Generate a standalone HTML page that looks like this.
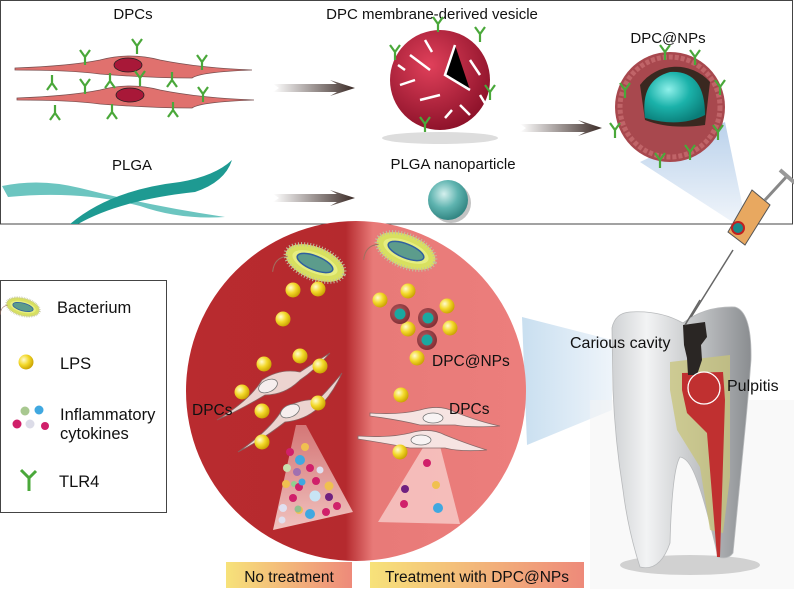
<!DOCTYPE html>
<html><head><meta charset="utf-8"><style>
html,body{margin:0;padding:0;background:#fff;}
svg{display:block;}
text{font-family:"Liberation Sans",sans-serif;fill:#111;}
</style></head><body>
<svg width="794" height="589" viewBox="0 0 794 589" xmlns="http://www.w3.org/2000/svg">
<defs>
<radialGradient id="lps" cx="0.35" cy="0.35" r="0.7"><stop offset="0" stop-color="#fffbd0"/><stop offset="0.5" stop-color="#f3d92a"/><stop offset="1" stop-color="#c8a000"/></radialGradient>
<radialGradient id="teal" cx="0.4" cy="0.35" r="0.7"><stop offset="0" stop-color="#d5f0ee"/><stop offset="0.5" stop-color="#5fb4b0"/><stop offset="1" stop-color="#2c7f7c"/></radialGradient>
<radialGradient id="teal2" cx="0.4" cy="0.35" r="0.7"><stop offset="0" stop-color="#8ff0ea"/><stop offset="0.5" stop-color="#1bb2aa"/><stop offset="1" stop-color="#0a7d78"/></radialGradient>
<radialGradient id="ves" cx="0.4" cy="0.35" r="0.7"><stop offset="0" stop-color="#e0405a"/><stop offset="1" stop-color="#8a1028"/></radialGradient>
<radialGradient id="np" cx="0.4" cy="0.4" r="0.7"><stop offset="0" stop-color="#b85a60"/><stop offset="1" stop-color="#7a2a30"/></radialGradient>
<linearGradient id="circ" x1="0" x2="1"><stop offset="0" stop-color="#b92b2f"/><stop offset="0.47" stop-color="#b52a2e"/><stop offset="0.55" stop-color="#e87a78"/><stop offset="1" stop-color="#ec7e7c"/></linearGradient>
<linearGradient id="arr" x1="0" x2="1"><stop offset="0" stop-color="#fff"/><stop offset="1" stop-color="#3a2a26"/></linearGradient>
<linearGradient id="lab" x1="0" x2="1"><stop offset="0" stop-color="#f7e27a"/><stop offset="1" stop-color="#ee8a7a"/></linearGradient>
<linearGradient id="tooth" x1="0" x2="1"><stop offset="0" stop-color="#d0d2d4"/><stop offset="0.25" stop-color="#f2f3f4"/><stop offset="0.6" stop-color="#c4c6c8"/><stop offset="1" stop-color="#8a8d90"/></linearGradient>
<linearGradient id="blue" x1="0" x2="1"><stop offset="0" stop-color="#c9dff0"/><stop offset="1" stop-color="#eef4fa"/></linearGradient>
<linearGradient id="blue2" x1="0" x2="0" y1="0" y2="1"><stop offset="0" stop-color="#a9c6e6"/><stop offset="1" stop-color="#f2f6fb"/></linearGradient>
<linearGradient id="cone" x1="0" x2="0" y1="0" y2="1"><stop offset="0" stop-color="#f3c4c0" stop-opacity="0.5"/><stop offset="1" stop-color="#f7d4d0" stop-opacity="0.9"/></linearGradient>
<g id="bal"><circle r="7.5" fill="url(#lps)"/></g>
<g id="tlr"><path d="M0 10 L0 2 L-5 -5 M0 2 L5 -5" stroke="#4aa83a" stroke-width="2.2" fill="none"/></g>
<g id="bact">
<ellipse rx="31" ry="16" fill="#d8e060" stroke="#c0c0a0" stroke-dasharray="1 2" stroke-width="4"/>
<ellipse rx="24" ry="10" fill="#e6ee80"/>
<ellipse rx="19" ry="7" fill="#5c9c8c" stroke="#3060a0" stroke-width="1.5"/>
<path d="M-28 4 Q-40 10 -36 24" stroke="#a07060" fill="none"/>
</g>
<g id="nps"><circle r="10" fill="url(#np)"/><circle r="5.5" fill="#1aa8a0"/></g>
</defs>

<rect x="0.5" y="0.5" width="792" height="223.5" fill="#fff" stroke="#444" stroke-width="1"/>
<text x="133" y="19" font-size="15" text-anchor="middle">DPCs</text>
<text x="432" y="19" font-size="15" text-anchor="middle">DPC membrane-derived vesicle</text>
<text x="668" y="43" font-size="15" text-anchor="middle">DPC@NPs</text>
<text x="132" y="170" font-size="15" text-anchor="middle">PLGA</text>
<text x="453" y="169" font-size="15" text-anchor="middle">PLGA nanoparticle</text>

<g>
<path d="M15 68 Q70 66 100 60 Q130 52 160 60 Q200 68 252 70 Q200 72 192 78 Q150 78 100 74 Q70 70 15 70 Z" fill="#e0716e" stroke="#7a5050" stroke-width="0.8"/>
<ellipse cx="128" cy="65" rx="14" ry="7" fill="#a81838" stroke="#222" stroke-width="0.8"/>
<path d="M17 98 Q70 96 100 90 Q130 82 160 90 Q200 98 254 100 Q200 102 192 108 Q150 108 100 104 Q70 100 17 100 Z" fill="#e0716e" stroke="#7a5050" stroke-width="0.8"/>
<ellipse cx="130" cy="95" rx="14" ry="7" fill="#a81838" stroke="#222" stroke-width="0.8"/>
<use href="#tlr" x="85" y="55"/><use href="#tlr" x="137" y="44"/><use href="#tlr" x="202" y="60"/>
<use href="#tlr" x="52" y="75" transform="rotate(180 52 80)"/><use href="#tlr" x="110" y="73" transform="rotate(180 110 78)"/>
<use href="#tlr" x="172" y="72" transform="rotate(180 172 77)"/><use href="#tlr" x="85" y="84"/><use href="#tlr" x="140" y="76"/><use href="#tlr" x="203" y="92"/>
<use href="#tlr" x="55" y="105" transform="rotate(180 55 110)"/><use href="#tlr" x="112" y="104" transform="rotate(180 112 109)"/><use href="#tlr" x="173" y="102" transform="rotate(180 173 107)"/>
</g>
<path d="M2 186 Q40 178 80 188 Q150 206 225 217 Q180 220 140 206 Q80 190 8 197 Z" fill="#6cc5c0"/>
<path d="M70 224 Q110 190 180 182 Q215 176 232 160 Q225 182 195 192 Q120 200 78 224 Z" fill="#1e9a92"/>
<path d="M273 84 L337 84 L330 80 L355 88 L330 96 L337 92 L273 92 L279 88 Z" fill="url(#arr)"/>
<path d="M273 194 L337 194 L330 190 L355 198 L330 206 L337 202 L273 202 L279 198 Z" fill="url(#arr)"/>
<path d="M520 124 L585 124 L578 120 L602 128 L578 136 L585 132 L520 132 L526 128 Z" fill="url(#arr)"/>
<ellipse cx="440" cy="138" rx="58" ry="6" fill="#ddd"/>
<circle cx="440" cy="80" r="50" fill="url(#ves)"/>
<path d="M410 55 L430 70 M455 45 L445 75 L470 90 M420 100 L440 95 M470 60 L480 75 M400 85 L415 80 M425 40 L432 52 M460 105 L470 115 M398 65 L405 70 M445 118 L452 110 M480 95 L486 105" stroke="#fff" stroke-width="2.5"/>
<use href="#tlr" x="438" y="22"/><use href="#tlr" x="480" y="32"/><use href="#tlr" x="490" y="90"/><use href="#tlr" x="425" y="122"/><use href="#tlr" x="395" y="50"/>
<circle cx="451" cy="203" r="20" fill="#888" opacity="0.5"/>
<circle cx="448" cy="200" r="20" fill="url(#teal)"/>
<path d="M640 162 L725 122 L748 232 Z" fill="url(#blue2)" opacity="0.8"/>
<circle cx="670" cy="107" r="55" fill="#a8484e"/>
<circle cx="670" cy="107" r="50" fill="none" stroke="#c06468" stroke-width="5" stroke-dasharray="4 2"/>
<path d="M640 85 A45 45 0 0 1 710 82 L705 125 Q670 130 645 120 Z" fill="#3a2820"/>
<path d="M645 118 Q640 80 670 72 Q705 70 705 115 Q680 128 645 118 Z" fill="url(#teal2)"/>
<use href="#tlr" x="625" y="88"/><use href="#tlr" x="665" y="50"/><use href="#tlr" x="695" y="55"/><use href="#tlr" x="720" y="85"/><use href="#tlr" x="718" y="130"/><use href="#tlr" x="660" y="158"/><use href="#tlr" x="690" y="150"/><use href="#tlr" x="615" y="128"/>
<line x1="733" y1="250" x2="683" y2="330" stroke="#666" stroke-width="1.5"/>
<line x1="765" y1="200" x2="788" y2="175" stroke="#888" stroke-width="3"/>
<path d="M780 170 L795 183" stroke="#999" stroke-width="4"/>
<path d="M752 190 L770 205 L745 245 L728 232 Z" fill="#e8a860" stroke="#555" stroke-width="1"/>
<circle cx="738" cy="228" r="6" fill="#1a8a8a" stroke="#c02020" stroke-width="2"/>

<rect x="0.5" y="280.5" width="166" height="232" fill="#fff" stroke="#444" stroke-width="1"/>
<use href="#bact" transform="translate(23 307) scale(0.55) rotate(15)"/>
<text x="57" y="313" font-size="16.5">Bacterium</text>
<use href="#bal" x="26" y="362"/>
<text x="60" y="369" font-size="16.5">LPS</text>
<circle cx="25" cy="411" r="4.5" fill="#a8c890"/><circle cx="39" cy="410" r="4.5" fill="#40a8e0"/>
<circle cx="17" cy="424" r="4.5" fill="#d0206a"/><circle cx="30" cy="424" r="4.5" fill="#dcdce8"/><circle cx="45" cy="426" r="4" fill="#d0206a"/>
<text x="60" y="420" font-size="16.5">Inflammatory</text>
<text x="60" y="439" font-size="16.5">cytokines</text>
<path d="M29 491 L29 478 L21 470 M29 478 L36 471" stroke="#4aa83a" stroke-width="3" fill="none"/>
<text x="59" y="487" font-size="16.5">TLR4</text>

<path d="M522 317 L612 340 L612 410 L527 445 Z" fill="url(#blue)"/>

<circle cx="356" cy="391" r="170" fill="url(#circ)"/>
<use href="#bact" transform="translate(315 263) rotate(22)"/>
<use href="#bact" transform="translate(406 251) rotate(22)"/>
<path d="M296 425 L306 425 L353 512 L273 530 Z" fill="url(#cone)"/>
<path d="M424 446 L440 446 L460 524 L378 522 Z" fill="#f9d8d6" opacity="0.7"/>
<path d="M217 420 Q250 400 262 380 Q280 368 300 372 Q315 362 330 353 Q315 370 300 380 Q285 395 265 395 Q240 410 217 420 Z" fill="#ecd4d0" stroke="#8a6060" stroke-width="0.8"/>
<ellipse cx="268" cy="386" rx="10" ry="6" fill="#f6eeee" stroke="#777" stroke-width="0.8" transform="rotate(-25 268 386)"/>
<path d="M238 452 Q270 430 282 410 Q300 398 318 400 Q330 388 342 373 Q332 395 318 408 Q305 420 285 422 Q262 440 238 452 Z" fill="#ecd4d0" stroke="#8a6060" stroke-width="0.8"/>
<ellipse cx="290" cy="411" rx="10" ry="6" fill="#f6eeee" stroke="#777" stroke-width="0.8" transform="rotate(-25 290 411)"/>
<path d="M370 413 Q400 415 420 410 Q440 404 455 412 Q480 422 500 426 Q470 428 455 425 Q440 425 420 425 Q400 420 370 416 Z" fill="#f6e4e2" stroke="#8a6a6a" stroke-width="0.8"/>
<ellipse cx="433" cy="418" rx="10" ry="5" fill="#f8f4f4" stroke="#777" stroke-width="0.8"/>
<path d="M358 436 Q390 438 410 433 Q430 427 445 435 Q470 445 487 450 Q460 452 445 448 Q430 448 410 448 Q390 444 358 439 Z" fill="#f6e4e2" stroke="#8a6a6a" stroke-width="0.8"/>
<ellipse cx="421" cy="440" rx="10" ry="5" fill="#f8f4f4" stroke="#777" stroke-width="0.8"/>
<g>
<circle cx="290" cy="452" r="4" fill="#d0206a"/><circle cx="305" cy="447" r="4" fill="#f0c050"/><circle cx="300" cy="460" r="5" fill="#40a8e0"/>
<circle cx="287" cy="468" r="4" fill="#c8e0b0"/><circle cx="297" cy="472" r="4" fill="#a070b0"/><circle cx="310" cy="468" r="4" fill="#d0206a"/><circle cx="320" cy="470" r="3.5" fill="#e0e0f0"/>
<circle cx="286" cy="484" r="4" fill="#f0c050"/><circle cx="294" cy="484" r="3" fill="#90d090"/><circle cx="299" cy="487" r="4" fill="#d0206a"/><circle cx="302" cy="482" r="3.5" fill="#40a8e0"/><circle cx="316" cy="481" r="4" fill="#d0206a"/><circle cx="329" cy="486" r="4.5" fill="#f0c050"/>
<circle cx="293" cy="498" r="4" fill="#d0206a"/><circle cx="315" cy="496" r="5.5" fill="#c8e4f4"/><circle cx="329" cy="497" r="4" fill="#702080"/>
<circle cx="283" cy="508" r="4" fill="#e0e0f0"/><circle cx="299" cy="510" r="4" fill="#f0c050"/><circle cx="298" cy="509" r="3.5" fill="#90c090"/><circle cx="310" cy="514" r="5" fill="#40a8e0"/><circle cx="326" cy="512" r="4" fill="#d0206a"/><circle cx="337" cy="506" r="4" fill="#d0206a"/><circle cx="282" cy="520" r="3.5" fill="#e0e0f0"/>
</g>
<circle cx="427" cy="463" r="4" fill="#d0206a"/><circle cx="405" cy="489" r="4" fill="#702080"/><circle cx="436" cy="485" r="4" fill="#f0c050"/><circle cx="404" cy="504" r="4" fill="#d0206a"/><circle cx="438" cy="508" r="5" fill="#40a8e0"/>
<use href="#bal" x="293" y="290"/><use href="#bal" x="318" y="289"/><use href="#bal" x="283" y="319"/>
<use href="#bal" x="264" y="364"/><use href="#bal" x="300" y="356"/><use href="#bal" x="320" y="366"/><use href="#bal" x="242" y="392"/><use href="#bal" x="262" y="411"/><use href="#bal" x="318" y="403"/><use href="#bal" x="262" y="442"/>
<use href="#bal" x="380" y="300"/><use href="#bal" x="408" y="291"/><use href="#bal" x="447" y="306"/><use href="#bal" x="408" y="329"/><use href="#bal" x="450" y="328"/><use href="#bal" x="417" y="358"/><use href="#bal" x="401" y="395"/><use href="#bal" x="400" y="452"/>
<use href="#nps" x="400" y="314"/><use href="#nps" x="428" y="318"/><use href="#nps" x="427" y="340"/>
<text x="432" y="366" font-size="15.5">DPC@NPs</text>
<text x="192" y="415" font-size="15.5">DPCs</text>
<text x="449" y="414" font-size="15.5">DPCs</text>

<rect x="226" y="562" width="126" height="26" fill="url(#lab)"/>
<text x="289" y="582" font-size="15.5" text-anchor="middle">No treatment</text>
<rect x="370" y="562" width="214" height="26" fill="url(#lab)"/>
<text x="477" y="582" font-size="15.5" text-anchor="middle">Treatment with DPC@NPs</text>

<rect x="590" y="400" width="204" height="189" fill="#f4f4f4" opacity="0.5"/>
<ellipse cx="690" cy="565" rx="70" ry="10" fill="#888" opacity="0.35"/>
<path d="M612 328 Q615 313 630 312 Q660 310 683 323 Q705 306 735 307 Q752 312 751 360 Q748 400 745 430 Q738 500 733 553 Q728 560 718 557 Q705 500 695 475 Q688 458 680 457 Q672 470 670 543 Q660 572 640 567 Q628 530 623 490 Q615 440 613 390 Z" fill="url(#tooth)" stroke="#b8babc" stroke-width="0.8"/>
<path d="M670 362 L730 355 L730 477 L723 533 L710 530 L700 467 L677 430 L670 390 Z" fill="#c8c47a" opacity="0.75"/>
<path d="M682 373 L723 372 L725 400 L720 557 L717 557 L707 433 L687 413 L682 390 Z" fill="#c03030"/>
<path d="M683 325 L705 322 L707 337 L701 345 L702 360 L697 375 L688 375 L687 358 L684 345 Z" fill="#2a2624"/>
<circle cx="704" cy="388" r="16" fill="none" stroke="#fff" stroke-width="1.3"/>
<line x1="700" y1="300" x2="685" y2="325" stroke="#666" stroke-width="1.5"/>
<text x="570" y="348" font-size="16">Carious cavity</text>
<text x="727" y="391" font-size="16">Pulpitis</text>
</svg>
</body></html>
